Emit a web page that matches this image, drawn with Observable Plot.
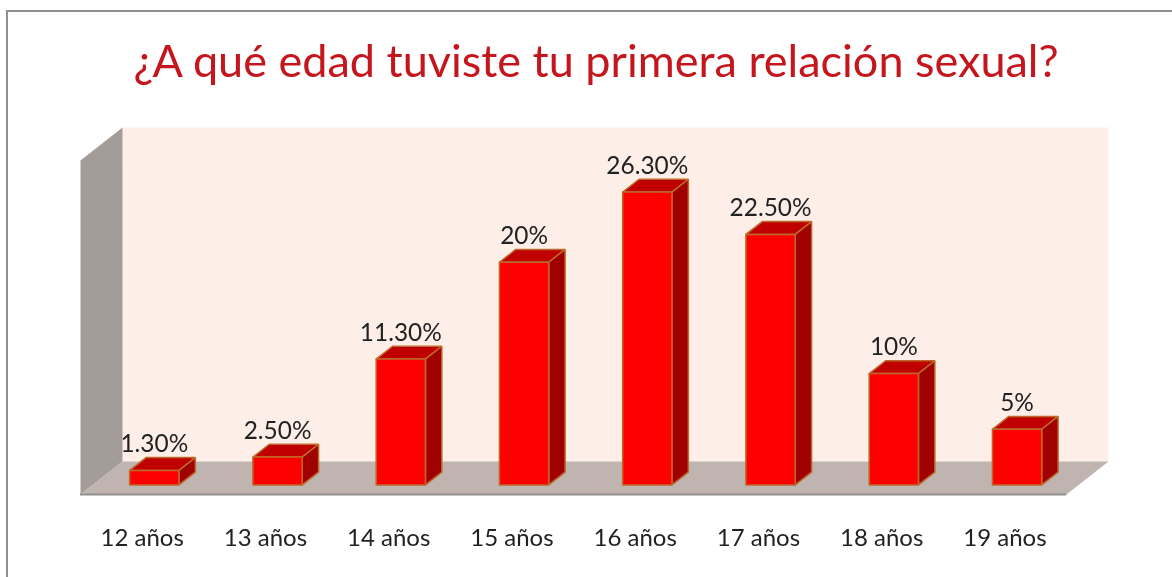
<!DOCTYPE html>
<html>
<head>
<meta charset="utf-8">
<script src="https://cdn.jsdelivr.net/npm/d3@7"></script>
<script src="https://cdn.jsdelivr.net/npm/@observablehq/plot@0.6"></script>
<style>
  html, body { margin: 0; padding: 0; background: #fff; overflow: hidden; }
  #wrap { position: relative; width: 1172px; height: 577px; filter: blur(0.5px); }
  #frame { position: absolute; left: 6px; top: 10px; right: 0; bottom: 0; border-top: 2px solid #8f8f8f; border-left: 2px solid #8f8f8f; }
  h1 { position: relative; margin: 0; height: 120px; box-sizing: border-box; padding-top: 38px; text-align: center; padding-left: 20px;
       font: 400 45px/44px Lato, sans-serif; color: #c4161c; white-space: nowrap; }
  svg { display: block; position: relative; }
</style>
</head>
<body>
<div id="wrap"><div id="frame"></div><h1>¿A qué edad tuviste tu primera relación sexual?</h1></div>
<script>
const categories = ["12 años", "13 años", "14 años", "15 años", "16 años", "17 años", "18 años", "19 años"];
const values = [1.3, 2.5, 11.3, 20, 26.3, 22.5, 10, 5];
const valueLabels = ["1.30%", "2.50%", "11.30%", "20%", "26.30%", "22.50%", "10%", "5%"];

// oblique depth of the 3D box, in data units
const depthX = 0.341, depthY = 2.965, yMax = 30;
const barWidth = 0.4, d0 = 0.29, d1 = 0.68;
const x0 = -0.5, x1 = 7.5;

const poly = (id, pts) => [...pts, pts[0]].map(([x, y]) => ({id, x, y}));
const at = (x, y, d) => [x + d * depthX, y + d * depthY];

const wall = poly("wall", [at(x0, 0, 1), at(x1, 0, 1), at(x1, yMax, 1), at(x0, yMax, 1)]);
const side = poly("side", [at(x0, 0, 0), at(x0, 0, 1), at(x0, yMax, 1), at(x0, yMax, 0)]);
const floor = poly("floor", [at(x0, 0, 0), at(x1, 0, 0), at(x1, 0, 1), at(x0, 0, 1)]);

const fronts = [], tops = [], sides = [];
values.forEach((v, i) => {
  const l = i - barWidth / 2, r = i + barWidth / 2;
  fronts.push(...poly("f" + i, [at(l, 0, d0), at(r, 0, d0), at(r, v, d0), at(l, v, d0)]));
  tops.push(...poly("t" + i, [at(l, v, d0), at(r, v, d0), at(r, v, d1), at(l, v, d1)]));
  sides.push(...poly("s" + i, [at(r, 0, d0), at(r, 0, d1), at(r, v, d1), at(r, v, d0)]));
});

const barStroke = "#bd6a28";
const face = (data, fill, stroke) => Plot.line(data, {x: "x", y: "y", z: "id", fill, stroke: stroke || "none", strokeWidth: stroke ? 1.5 : 0, curve: "linear", strokeLinejoin: "miter"});

const chart = Plot.plot({
  width: 1172,
  height: 457,
  marginLeft: 80,
  marginRight: 106,
  marginTop: 40,
  marginBottom: 83,
  x: {domain: [x0, x1]},
  y: {domain: [0, yMax], axis: null},
  style: {background: "transparent", overflow: "visible"},
  marks: [
    face(wall, "#fdefe8"),
    face(side, "#a49c98"),
    face(floor, "#bfb4b0"),
    Plot.ruleY([0], {stroke: "#8f8f8f", strokeWidth: 2}),
    face(tops, "#c00000", barStroke),
    face(sides, "#a00000", barStroke),
    face(fronts, "#ff0000", barStroke),
    Plot.text(values, {
      x: (d, i) => i + d0 * depthX,
      y: (d) => d + d1 * depthY,
      text: (d, i) => valueLabels[i],
      dy: -13.5,
      fontSize: 24.4,
      fontFamily: "Lato, sans-serif",
      fill: "#222"
    }),
    Plot.axisX({
      ticks: d3.range(categories.length),
      tickFormat: (i) => categories[i],
      tickSize: 0,
      tickPadding: 34,
      fontSize: 24,
      fontFamily: "Lato, sans-serif",
      fill: "#222",
      label: null
    })
  ]
});
document.getElementById("wrap").appendChild(chart);
</script>
</body>
</html>
